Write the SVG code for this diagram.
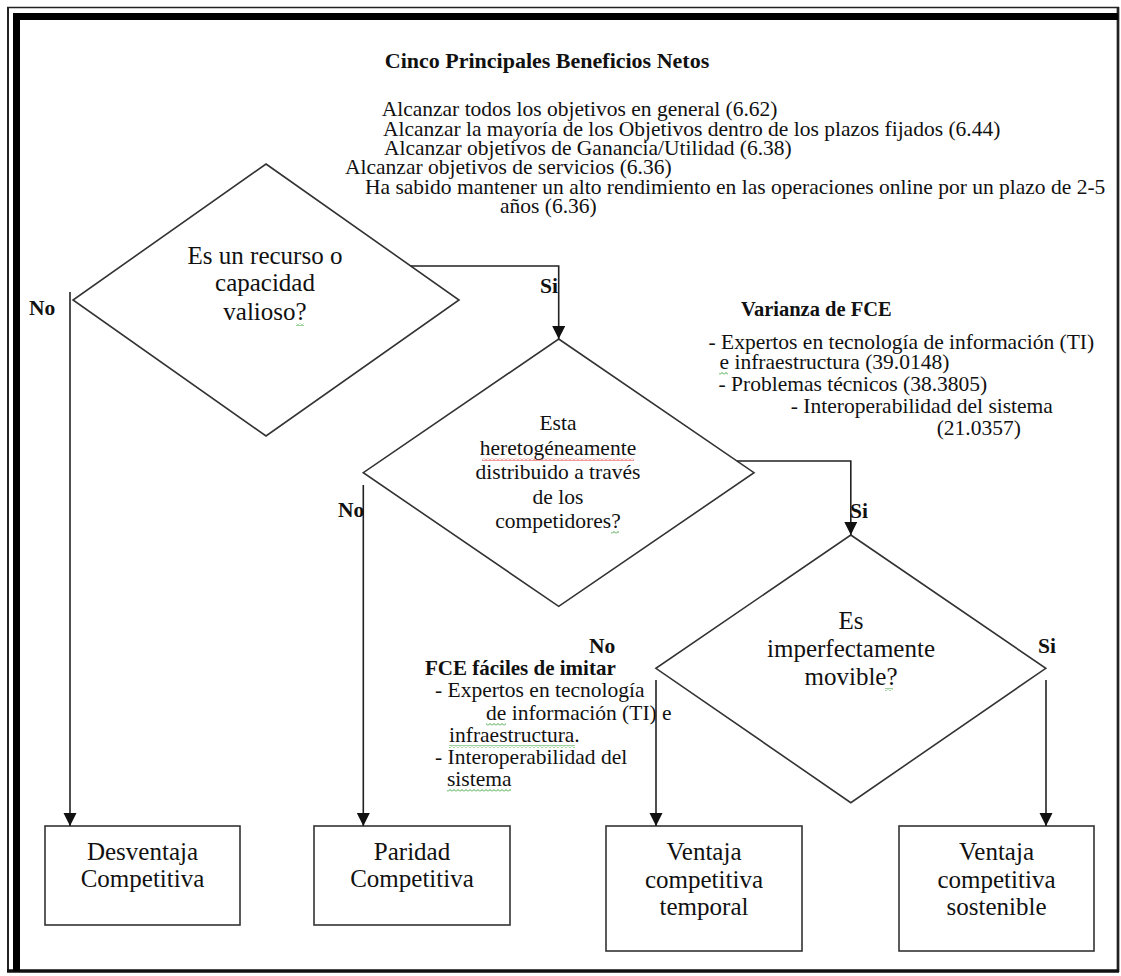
<svg xmlns="http://www.w3.org/2000/svg" width="1121" height="976" viewBox="0 0 1121 976">
<style>
text{font-family:"Liberation Serif","Times New Roman",serif;fill:#111}
.b{font-weight:bold}
.t{font-size:21.5px}
.big{font-size:25px}
.mid{font-size:21.5px}
.c{text-anchor:middle}
.shape{fill:#fff;stroke:#333;stroke-width:1.6}
.conn{fill:none;stroke:#222;stroke-width:1.6}
.sqr{fill:url(#wavR)}
.sqg{fill:url(#wavG)}
</style>
<defs>
<marker id="ah" markerUnits="userSpaceOnUse" markerWidth="14" markerHeight="14" refX="13" refY="6.5" orient="auto">
<path d="M0,0 L13,6.5 L0,13 z" fill="#111"/>
</marker>
<pattern id="wavR" width="4" height="3" patternUnits="userSpaceOnUse">
<path d="M0,2.5 L2,0.5 L4,2.5" fill="none" stroke="#e02020" stroke-width="0.9"/>
</pattern>
<pattern id="wavG" width="4" height="3" patternUnits="userSpaceOnUse">
<path d="M0,2.5 L2,0.5 L4,2.5" fill="none" stroke="#2a9a2a" stroke-width="0.9"/>
</pattern>
</defs>
<rect width="1121" height="976" fill="#fff"/>
<g id="frame">
<line x1="7" y1="7.5" x2="1119" y2="7.5" stroke="#222" stroke-width="1.5"/>
<line x1="8" y1="7" x2="8" y2="972" stroke="#222" stroke-width="2"/>
<line x1="1118" y1="7" x2="1118" y2="972" stroke="#222" stroke-width="2.7"/>
<line x1="7" y1="971" x2="1119" y2="971" stroke="#111" stroke-width="3.3"/>
<rect x="13" y="13" width="1105" height="7" fill="#000"/>
<rect x="13" y="13" width="7" height="958" fill="#000"/>
</g>
<g id="benefits">
<text class="b c" x="547" y="68" style="font-size:22px">Cinco Principales Beneficios Netos</text>
<text class="t" x="381.7" y="116">Alcanzar todos los objetivos en general  (6.62)</text>
<text class="t" x="383" y="135.5">Alcanzar la mayoría de los Objetivos dentro de los plazos fijados (6.44)</text>
<text class="t" x="384" y="155">Alcanzar objetivos de Ganancia/Utilidad (6.38)</text>
<text class="t" x="345" y="174">Alcanzar objetivos de servicios (6.36)</text>
<text class="t" x="365" y="193.5">Ha sabido mantener un alto rendimiento en las operaciones online por un plazo de 2-5</text>
<text class="t" x="500" y="213">años (6.36)</text>
</g>
<g id="d1">
<polygon class="shape" points="266,164 459,300 266,436 73,300"/>
<text class="big c" x="265" y="264">Es un  recurso o</text>
<text class="big c" x="265" y="291">capacidad</text>
<text class="big c" x="265" y="320">valioso?</text>
<rect class="sqg" x="296" y="323" width="8" height="3"/>
</g>
<g id="d2">
<polygon class="shape" points="558.7,339 754,472.7 558.7,606.4 363.3,472.7"/>
<text class="mid c" x="558" y="430">Esta</text>
<text class="mid c" x="558" y="455">heretogéneamente</text>
<rect class="sqr" x="482" y="458" width="152" height="3"/>
<text class="mid c" x="558" y="479">distribuido a través</text>
<text class="mid c" x="558" y="504">de los</text>
<text class="mid c" x="558" y="528">competidores?</text>
<rect class="sqg" x="611" y="531" width="8" height="3"/>
</g>
<g id="d3">
<polygon class="shape" points="850.8,535 1045.8,668.3 850.8,802.7 655.9,668.3"/>
<text class="big c" x="851" y="629">Es</text>
<text class="big c" x="851" y="657">imperfectamente</text>
<text class="big c" x="851" y="685">movible?</text>
<rect class="sqg" x="885" y="688" width="8" height="3"/>
</g>
<g id="varianza">
<text class="b" x="741" y="316" style="font-size:20.5px">Varianza de FCE</text>
<text class="t" x="708.5" y="349">- Expertos en tecnología de información (TI)</text>
<text class="t" x="719.5" y="369">e infraestructura (39.0148)</text>
<rect class="sqg" x="719" y="372" width="9" height="3"/>
<text class="t" x="718.5" y="391">- Problemas técnicos (38.3805)</text>
<text class="t" x="790.8" y="413">- Interoperabilidad del sistema</text>
<text class="t" x="936.7" y="435">(21.0357)</text>
</g>
<g id="imitar">
<text class="b" x="425" y="675" style="font-size:21px">FCE fáciles de imitar</text>
<text class="t" x="435" y="697">- Expertos en tecnología</text>
<text class="t" x="486" y="720">de información (TI) e</text>
<rect class="sqg" x="486" y="723" width="20" height="3"/>
<text class="t" x="449" y="742">infraestructura.</text>
<rect class="sqg" x="449" y="745" width="126" height="3"/>
<text class="t" x="435" y="764">- Interoperabilidad  del</text>
<text class="t" x="447" y="786">sistema</text>
<rect class="sqg" x="447" y="789" width="64" height="3"/>
</g>
<g id="box1">
<rect class="shape" x="45" y="826" width="195" height="99"/>
<text class="big c" x="142.5" y="860">Desventaja</text>
<text class="big c" x="142.5" y="887">Competitiva</text>
</g>
<g id="box2">
<rect class="shape" x="314" y="826" width="196" height="99"/>
<text class="big c" x="412" y="860">Paridad</text>
<text class="big c" x="412" y="887">Competitiva</text>
</g>
<g id="box3">
<rect class="shape" x="606" y="826" width="196" height="125"/>
<text class="big c" x="704" y="860">Ventaja</text>
<text class="big c" x="704" y="888">competitiva</text>
<text class="big c" x="704" y="915">temporal</text>
</g>
<g id="box4">
<rect class="shape" x="899" y="826" width="195" height="125"/>
<text class="big c" x="996.5" y="860">Ventaja</text>
<text class="big c" x="996.5" y="888">competitiva</text>
<text class="big c" x="996.5" y="915">sostenible</text>
</g>
<g id="connectors">
<path class="conn" d="M410.8,266 H558.7 V339" marker-end="url(#ah)"/>
<path class="conn" d="M737,461 H850.8 V535" marker-end="url(#ah)"/>
<path class="conn" d="M70,292 V826" marker-end="url(#ah)"/>
<path class="conn" d="M363.3,485 V826" marker-end="url(#ah)"/>
<path class="conn" d="M656,680 V826" marker-end="url(#ah)"/>
<path class="conn" d="M1046,680 V826" marker-end="url(#ah)"/>
</g>
<g id="labels">
<text class="b t" x="29" y="315">No</text>
<text class="b t" x="540" y="293">Si</text>
<text class="b t" x="338" y="517">No</text>
<text class="b t" x="850" y="518">Si</text>
<text class="b t" x="589" y="653">No</text>
<text class="b t" x="1038" y="653">Si</text>
</g>
</svg>
